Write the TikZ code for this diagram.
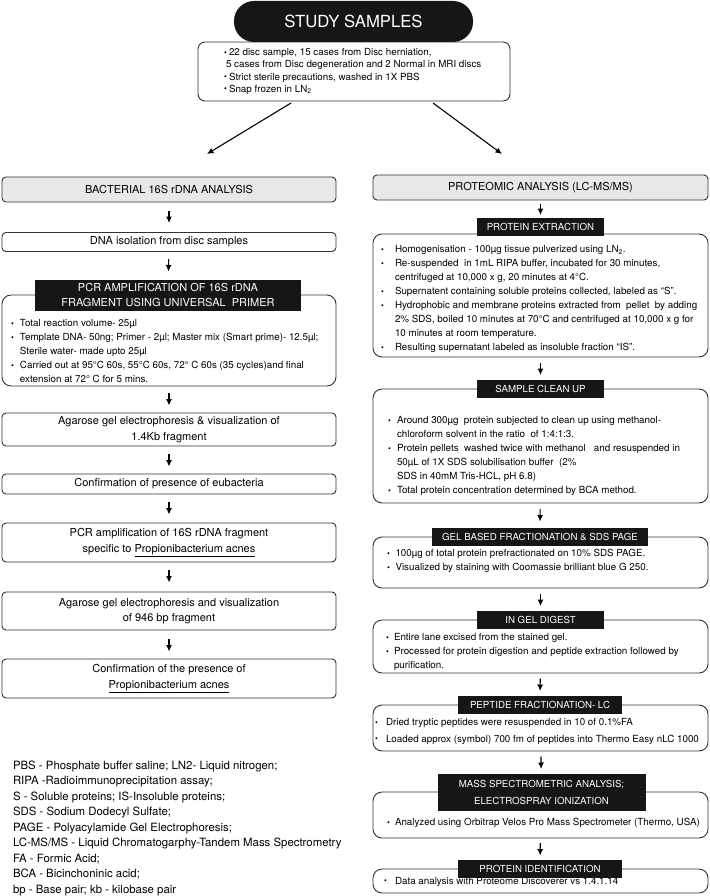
\documentclass[tikz,border=0pt]{standalone}
\usepackage{fontspec}
\setmainfont{TeX Gyre Heros}
\usetikzlibrary{arrows.meta}
\definecolor{bd}{HTML}{333333}
\definecolor{hg}{HTML}{E8E8E8}
\definecolor{lb}{HTML}{161616}
\newcommand{\mybul}[1]{\makebox[#1][l]{\raisebox{0.4pt}{\fontsize{8}{8}\selectfont\textbullet}}}
\newcommand{\myind}[1]{\makebox[#1]{}}
\newcommand{\tp}{\rule{0pt}{8pt}}
\begin{document}
\begin{tikzpicture}[x=1pt,y=-1pt,
  box/.style={draw=bd, line width=0.9pt, rounded corners=4pt, minimum width=334pt, inner sep=0pt, outer sep=0pt, align=center, font=\fontsize{11}{15.5}\selectfont},
  hdr/.style={box, fill=hg},
  bbox/.style={draw=bd, line width=0.9pt, rounded corners=9pt, inner sep=0pt, outer sep=0pt},
  lab/.style={fill=lb, text=white, inner sep=0pt, outer sep=0pt, align=center, minimum height=18pt, font=\fontsize{9.7}{17}\selectfont},
  txt/.style={anchor=north west, inner sep=0pt, outer sep=0pt, align=left, font=\fontsize{9.8}{14}\selectfont},
  arr/.style={-{Latex[length=6.5pt,width=6pt]}, line width=1.1pt, draw=black},
  pill/.style={fill=lb, rounded corners=20pt, minimum width=239pt, minimum height=41pt, inner sep=0pt, text=white, font=\fontsize{16.7}{20}\selectfont}
]
\useasboundingbox (0,0) rectangle (709,896);
\fill[white] (0,0) rectangle (709,896);

% ---- top
\node[bbox, rounded corners=7pt, minimum width=312pt, minimum height=59pt] (samples) at (354,71.5) {};
\node[pill] (study) at (353.5,21.5) {STUDY SAMPLES};
\node[txt, font=\fontsize{9.8}{12.3}\selectfont] (samplestxt) at (224,47.5)
 {\tp\mybul{5pt}22 disc sample, 15 cases from Disc herniation,\\
  \myind{2pt}5 cases from Disc degeneration and 2 Normal in MRI discs\\
  \mybul{5pt}Strict sterile precautions, washed in 1X PBS\\
  \mybul{5pt}Snap frozen in LN\textsubscript{2}};
\coordinate (la0) at (291,103);
\coordinate (la1) at (207,154);
\coordinate (ra0) at (433,103);
\coordinate (ra1) at (502,154);
\draw[arr] (la0) -- (la1);
\draw[arr] (ra0) -- (ra1);

% ---- left column
\node[hdr, minimum height=25pt] (bact) at (169,189.5) {BACTERIAL 16S rDNA ANALYSIS};
\node[box, minimum height=19pt] (dna) at (169,242) {DNA isolation from disc samples};
\node[bbox, minimum width=334pt, minimum height=91pt] (pcr) at (169,340.5) {};
\node[lab, minimum width=266pt, minimum height=31pt, font=\fontsize{11}{15}\selectfont] (pcrlab) at (168,295)
 {PCR AMPLIFICATION OF 16S rDNA\\FRAGMENT USING UNIVERSAL\ \ PRIMER};
\node[txt] (pcrtxt) at (11,318.5)
 {\tp\mybul{9pt}Total reaction volume- 25µl\\
  \mybul{9pt}Template DNA- 50ng; Primer - 2µl; Master mix (Smart prime)- 12.5µl;\\
  \myind{9pt}Sterile water- made upto 25µl\\
  \mybul{9pt}Carried out at 95°C 60s, 55°C 60s, 72° C 60s (35 cycles)and final\\
  \myind{9pt}extension at 72° C for 5 mins.};
\node[box, minimum height=33pt] (ag1) at (169,429.5) {Agarose gel electrophoresis \& visualization of\\1.4Kb fragment};
\node[box, minimum height=20pt] (conf1) at (169,484) {Confirmation of presence of eubacteria};
\node[box, minimum height=39pt] (pcr2) at (169,542.5) {PCR amplification of 16S rDNA fragment\\specific to \underline{Propionibacterium acnes}};
\node[box, minimum height=38pt] (ag2) at (169,611) {Agarose gel electrophoresis and visualization\\of 946 bp fragment};
\node[box, minimum height=39pt] (conf2) at (169,678.5) {Confirmation of the presence of\\\underline{Propionibacterium acnes}};

\draw[arr, shorten <=8.5pt, shorten >=9.5pt] (bact) -- (dna);
\draw[arr, shorten <=7.5pt, shorten >=8pt] (dna) -- (pcrlab);
\draw[arr, shorten <=7pt, shorten >=7.5pt] (pcr) -- (ag1);
\draw[arr, shorten <=8pt, shorten >=7.5pt] (ag1) -- (conf1);
\draw[arr, shorten <=8pt, shorten >=8.5pt] (conf1) -- (pcr2);
\draw[arr, shorten <=8pt, shorten >=9.5pt] (pcr2) -- (ag2);
\draw[arr, shorten <=9pt, shorten >=7.5pt] (ag2) -- (conf2);

% ---- legend
\node[txt, font=\fontsize{11.4}{15.5}\selectfont] (legend) at (13,760.5)
 {\tp PBS - Phosphate buffer saline; LN2- Liquid nitrogen;\\
  RIPA -Radioimmunoprecipitation assay;\\
  S - Soluble proteins; IS-Insoluble proteins;\\
  SDS - Sodium Dodecyl Sulfate;\\
  PAGE - Polyacylamide Gel Electrophoresis;\\
  LC-MS/MS - Liquid Chromatogarphy-Tandem Mass Spectrometry\\
  FA - Formic Acid;\\
  BCA - Bicinchoninic acid;\\
  bp - Base pair; kb - kilobase pair};

% ---- right column
\node[hdr, minimum width=335pt, minimum height=25pt] (prot) at (540.5,187.5) {PROTEOMIC ANALYSIS (LC-MS/MS)};

\node[bbox, minimum width=335pt, minimum height=123pt] (ext) at (540.5,295.5) {};
\node[lab, minimum width=127pt] (extlab) at (540.5,227) {PROTEIN EXTRACTION};
\node[txt] (exttxt) at (381,244.5)
 {\tp\mybul{14pt}Homogenisation - 100µg tissue pulverized using LN\textsubscript{2}.\\
  \mybul{14pt}Re-suspended\ \ in 1mL RIPA buffer, incubated for 30 minutes,\\
  \myind{14pt}centrifuged at 10,000 x g, 20 minutes at 4°C.\\
  \mybul{14pt}Supernatent containing soluble proteins collected, labeled as “S”.\\
  \mybul{14pt}Hydrophobic and membrane proteins extracted from\ \ pellet\ \ by adding\\
  \myind{14pt}2\% SDS, boiled 10 minutes at 70°C and centrifuged at 10,000 x g for\\
  \myind{14pt}10 minutes at room temperature.\\
  \mybul{14pt}Resulting supernatant labeled as insoluble fraction “IS”.};

\node[bbox, minimum width=335pt, minimum height=114pt] (cln) at (540.5,446) {};
\node[lab, minimum width=127pt] (clnlab) at (540.5,389) {SAMPLE CLEAN UP};
\node[txt] (clntxt) at (388,415.5)
 {\tp\mybul{9pt}Around 300µg\ \ protein subjected to clean up using methanol-\\
  \myind{9pt}chloroform solvent in the ratio\ \ of 1:4:1:3.\\
  \mybul{9pt}Protein pellets\ \ washed twice with methanol\ \ \ and resuspended in\\
  \myind{9pt}50µL of 1X SDS solubilisation buffer\ \ (2\%\\
  \myind{9pt}SDS in 40mM Tris-HCL, pH 6.8)\\
  \mybul{9pt}Total protein concentration determined by BCA method.};

\node[bbox, minimum width=335pt, minimum height=51pt] (gel) at (540.5,562.5) {};
\node[lab, minimum width=216pt] (gellab) at (540,536.5) {GEL BASED FRACTIONATION \& SDS PAGE};
\node[txt] (geltxt) at (387,548.5)
 {\tp\mybul{8.5pt}100µg of total protein prefractionated on 10\% SDS PAGE.\\
  \mybul{8.5pt}Visualized by staining with Coomassie brilliant blue G 250.};

\node[bbox, minimum width=335pt, minimum height=53pt] (ing) at (540.5,646.5) {};
\node[lab, minimum width=127pt] (inglab) at (540.5,620) {IN GEL DIGEST};
\node[txt] (ingtxt) at (386,632.5)
 {\tp\mybul{8pt}Entire lane excised from the stained gel.\\
  \mybul{8pt}Processed for protein digestion and peptide extraction followed by\\
  \myind{8pt}purification.};

\node[bbox, minimum width=335pt, minimum height=46pt] (pep) at (540.5,728) {};
\node[lab, minimum width=164pt] (peplab) at (540,705) {PEPTIDE FRACTIONATION- LC};
\node[txt, font=\fontsize{9.8}{16.5}\selectfont] (peptxt) at (375,717.5)
 {\tp\mybul{11pt}Dried tryptic peptides were resuspended in 10 of 0.1\%FA\\
  \mybul{11pt}Loaded approx (symbol) 700 fm of peptides into Thermo Easy nLC 1000};

\node[bbox, minimum width=335pt, minimum height=46pt] (mass) at (540.5,815) {};
\node[lab, minimum width=208pt, minimum height=37pt] (masslab) at (541.5,792.5) {MASS SPECTROMETRIC ANALYSIS;\\ELECTROSPRAY IONIZATION};
\node[txt] (masstxt) at (387,817.5)
 {\tp\mybul{8pt}Analyzed using Orbitrap Velos Pro Mass Spectrometer (Thermo, USA)};

\node[bbox, minimum width=335pt, minimum height=24pt] (pid) at (540.5,881) {};
\node[lab, minimum width=164pt] (pidlab) at (540,869) {PROTEIN IDENTIFICATION};
\node[txt] (pidtxt) at (384,876)
 {\tp\mybul{11pt}Data analysis with Proteome Discoverer vs 1.4.1.14};

\draw[arr, shorten <=3.5pt, shorten >=3pt] (prot) -- (extlab);
\draw[arr, shorten <=5.5pt, shorten >=5pt] (ext) -- (clnlab);
\draw[arr, shorten <=6pt, shorten >=6pt] (cln) -- (gellab);
\draw[arr, shorten <=5.5pt, shorten >=5pt] (gel) -- (inglab);
\draw[arr, shorten <=5.5pt, shorten >=5pt] (ing) -- (peplab);
\draw[arr, shorten <=5.5pt, shorten >=5pt] (pep) -- (masslab);
\draw[arr, shorten <=5pt, shorten >=4.5pt] (mass) -- (pidlab);
\end{tikzpicture}
\end{document}
